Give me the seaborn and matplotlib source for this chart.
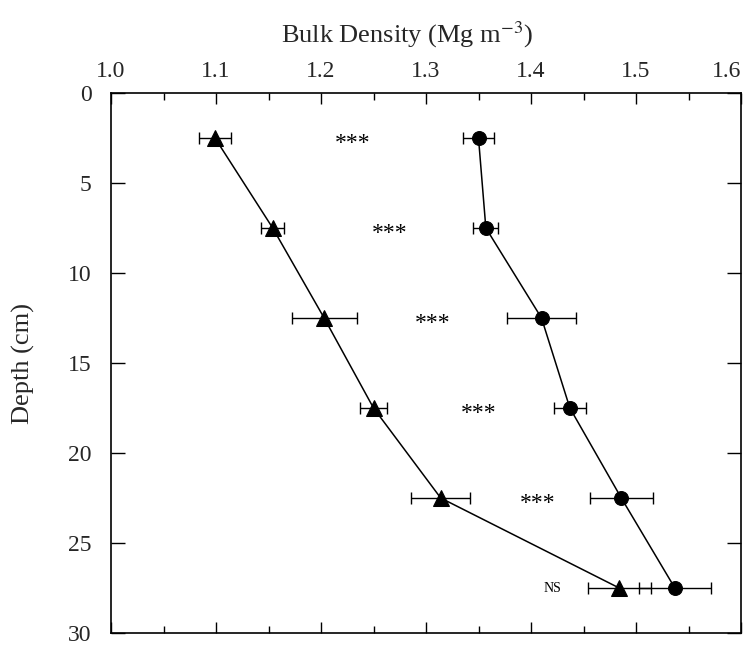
import matplotlib
matplotlib.use("Agg")
import matplotlib.pyplot as plt
from matplotlib.ticker import MultipleLocator
import seaborn as sns
import pandas as pd

depth = [2.5, 7.5, 12.5, 17.5, 22.5, 27.5]
tri_bd = [1.099, 1.154, 1.203, 1.250, 1.314, 1.484]
tri_err = [0.015, 0.011, 0.031, 0.013, 0.028, 0.030]
cir_bd = [1.350, 1.357, 1.410, 1.437, 1.486, 1.537]
cir_err = [0.015, 0.012, 0.033, 0.015, 0.030, 0.034]
sig_labels = ["***", "***", "***", "***", "***", "NS"]
sig_x = [1.230, 1.265, 1.306, 1.350, 1.406, 1.420]
x_ticks = [1.0, 1.1, 1.2, 1.3, 1.4, 1.5, 1.6]
x_tick_labels = ["1.0", "1.1", "1.2", "1.3", "1.4", "1.5", "1.6"]

sns.set_theme(style="ticks")
plt.rcParams["font.family"] = ["Liberation Serif", "DejaVu Serif"]
plt.rcParams["mathtext.fontset"] = "stix"

fig = plt.figure(figsize=(7.56, 6.47), dpi=100)
ax = fig.add_axes([111 / 756, 1 - 633 / 647, 630 / 756, 540 / 647])

df_t = pd.DataFrame({"bd": tri_bd, "depth": depth})
df_c = pd.DataFrame({"bd": cir_bd, "depth": depth})

sns.lineplot(data=df_t, x="bd", y="depth", sort=False, estimator=None,
             color="black", lw=1.1, marker="^", markersize=11,
             markeredgecolor="black", ax=ax)
sns.lineplot(data=df_c, x="bd", y="depth", sort=False, estimator=None,
             color="black", lw=1.1, marker="o", markersize=10,
             markeredgecolor="black", ax=ax)
ax.errorbar(tri_bd, depth, xerr=tri_err, fmt="none", ecolor="black",
            elinewidth=1.0, capsize=4, capthick=1.0)
ax.errorbar(cir_bd, depth, xerr=cir_err, fmt="none", ecolor="black",
            elinewidth=1.0, capsize=4, capthick=1.0)

for lab, x, d in zip(sig_labels, sig_x, depth):
    if lab == "***":
        ax.text(x, d + 0.3, lab, ha="center", va="center", fontsize=17,
                color="black")
    else:
        ax.text(x, d, lab, ha="center", va="center", fontsize=10,
                color="black")

ax.set_xlim(1.0, 1.6)
ax.set_ylim(30, 0)
ax.set_xticks(x_ticks)
ax.set_xticklabels(x_tick_labels)
ax.xaxis.set_minor_locator(MultipleLocator(0.05))
ax.yaxis.set_major_locator(MultipleLocator(5))

ax.tick_params(axis="x", which="both", direction="in", top=True, bottom=True,
               labeltop=True, labelbottom=False, color="black")
ax.tick_params(axis="x", which="major", length=8, width=1, labelsize=17, pad=8)
ax.tick_params(axis="x", which="minor", length=5, width=1)
ax.tick_params(axis="y", which="major", direction="in", left=True, right=True,
               length=10, width=1, labelsize=17, pad=14, color="black")

for s in ax.spines.values():
    s.set_color("black")
    s.set_linewidth(1.2)

last_tick = ax.xaxis.get_major_ticks()[-1]
last_tick.label2.set_horizontalalignment("right")

ax.set_xlabel("")
ax.set_ylabel("Depth (cm)", fontsize=19, labelpad=24)
fig.text(407 / 756, 1 - 35 / 647, r"Bulk Density (Mg m$^{-3}$)",
         ha="center", va="center", fontsize=19)

fig.savefig("out.png", dpi=100, facecolor="white")
